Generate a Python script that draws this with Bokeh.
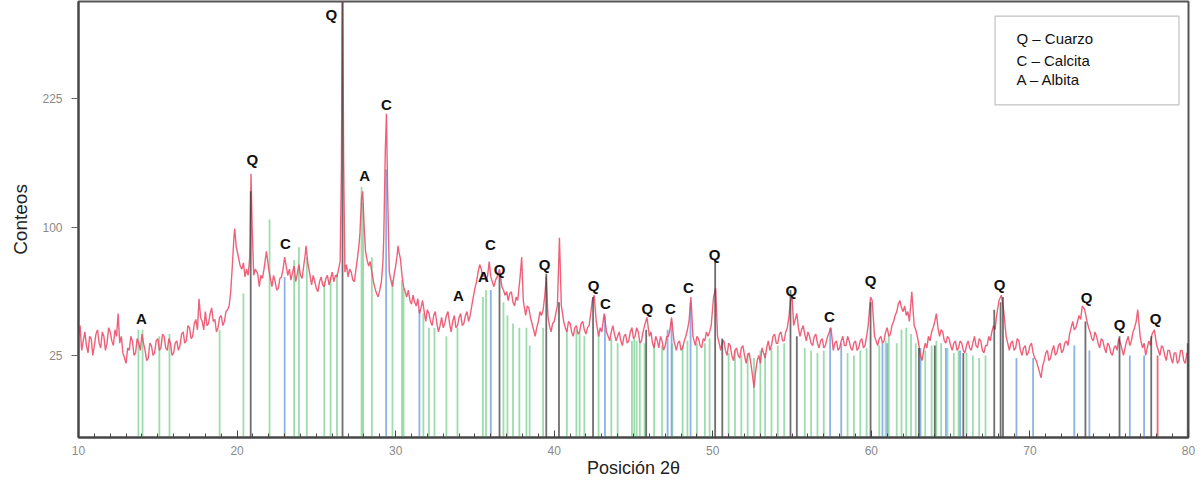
import numpy as np
from bokeh.plotting import figure
from bokeh.models import FixedTicker, Range1d, BoxAnnotation, Label, CustomJSTickFormatter
from bokeh.core.properties import value
from bokeh.embed import file_html
from bokeh.resources import INLINE

# ---- measured diffractogram (2theta in degrees, counts) ----
angle = [
    10.0, 10.1, 10.2, 10.3, 10.4, 10.5, 10.6, 10.7, 10.8, 10.9,
    11.0, 11.1, 11.2, 11.3, 11.4, 11.5, 11.6, 11.7, 11.8, 11.9,
    12.0, 12.1, 12.2, 12.3, 12.4, 12.5, 12.6, 12.7, 12.8, 12.9,
    13.0, 13.1, 13.2, 13.3, 13.4, 13.5, 13.6, 13.7, 13.8, 13.9,
    14.0, 14.1, 14.2, 14.3, 14.4, 14.5, 14.6, 14.7, 14.8, 14.9,
    15.0, 15.1, 15.2, 15.3, 15.4, 15.5, 15.6, 15.7, 15.8, 15.9,
    16.0, 16.1, 16.2, 16.3, 16.4, 16.5, 16.6, 16.7, 16.8, 16.9,
    17.0, 17.1, 17.2, 17.3, 17.4, 17.5, 17.6, 17.7, 17.8, 17.9,
    18.0, 18.1, 18.2, 18.3, 18.4, 18.5, 18.6, 18.7, 18.8, 18.9,
    19.0, 19.1, 19.2, 19.3, 19.4, 19.5, 19.6, 19.7, 19.8, 19.85, 19.95,
    20.05, 20.2, 20.3, 20.4, 20.5, 20.6, 20.7, 20.8, 20.88, 20.95,
    21.05, 21.15, 21.3, 21.4, 21.5, 21.6, 21.7, 21.85, 21.95,
    22.0, 22.1, 22.2, 22.3, 22.4, 22.5, 22.6, 22.7, 22.8, 22.9,
    23.0, 23.1, 23.2, 23.3, 23.4, 23.5, 23.6, 23.7, 23.8, 23.9,
    24.0, 24.1, 24.2, 24.3, 24.35, 24.45, 24.6, 24.7, 24.8, 24.9,
    25.0, 25.1, 25.2, 25.3, 25.4, 25.5, 25.6, 25.7, 25.8, 25.9,
    26.0, 26.1, 26.2, 26.3, 26.4, 26.5, 26.58, 26.65, 26.72, 26.8, 26.9,
    27.0, 27.1, 27.2, 27.3, 27.4, 27.5, 27.6, 27.7, 27.75, 27.85, 27.92,
    28.0, 28.1, 28.2, 28.3, 28.4, 28.5, 28.6, 28.7, 28.8, 28.9,
    29.0, 29.1, 29.2, 29.25, 29.35, 29.42, 29.5, 29.6, 29.7, 29.8, 29.9,
    30.0, 30.1, 30.15, 30.2, 30.3, 30.4, 30.5, 30.6, 30.7, 30.8, 30.9,
    31.0, 31.1, 31.2, 31.3, 31.4, 31.5, 31.6, 31.7, 31.8, 31.9,
    32.0, 32.1, 32.2, 32.3, 32.4, 32.5, 32.6, 32.7, 32.8, 32.9,
    33.0, 33.1, 33.2, 33.3, 33.4, 33.5, 33.6, 33.7, 33.8, 33.9,
    34.0, 34.1, 34.2, 34.3, 34.4, 34.5, 34.6, 34.7, 34.8, 34.9,
    35.0, 35.1, 35.2, 35.3, 35.4, 35.5, 35.6, 35.7, 35.8, 35.9,
    36.0, 36.1, 36.2, 36.3, 36.4, 36.5, 36.55, 36.7, 36.8, 36.9,
    37.0, 37.1, 37.2, 37.3, 37.4, 37.5, 37.6, 37.7, 37.85, 37.95,
    38.05, 38.2, 38.3, 38.4, 38.5, 38.6, 38.7, 38.8, 38.9,
    39.0, 39.1, 39.2, 39.3, 39.4, 39.5, 39.6, 39.7, 39.8, 39.9,
    40.0, 40.1, 40.2, 40.33, 40.45, 40.6, 40.7, 40.8, 40.9,
    41.0, 41.1, 41.2, 41.3, 41.4, 41.5, 41.6, 41.7, 41.8, 41.9,
    42.0, 42.1, 42.2, 42.3, 42.4, 42.52, 42.65, 42.8, 42.9,
    43.0, 43.15, 43.3, 43.4, 43.5, 43.6, 43.7, 43.8, 43.9,
    44.0, 44.1, 44.2, 44.3, 44.4, 44.5, 44.6, 44.7, 44.8, 44.9,
    45.0, 45.1, 45.2, 45.3, 45.4, 45.5, 45.6, 45.7, 45.85,
    46.0, 46.1, 46.2, 46.3, 46.4, 46.5, 46.6, 46.7, 46.8, 46.9,
    47.0, 47.1, 47.2, 47.3, 47.4, 47.55, 47.7, 47.8, 47.9,
    48.0, 48.1, 48.2, 48.3, 48.4, 48.5, 48.62, 48.75, 48.9,
    49.0, 49.1, 49.2, 49.3, 49.4, 49.5, 49.6, 49.7, 49.8, 49.9,
    50.05, 50.18, 50.3, 50.4, 50.5, 50.6, 50.7, 50.8, 50.9,
    51.0, 51.1, 51.2, 51.3, 51.4, 51.5, 51.6, 51.7, 51.8, 51.9,
    52.0, 52.1, 52.2, 52.3, 52.4, 52.5, 52.6, 52.7, 52.8, 52.9,
    53.0, 53.1, 53.2, 53.3, 53.4, 53.5, 53.6, 53.7, 53.8, 53.9,
    54.0, 54.1, 54.2, 54.3, 54.4, 54.5, 54.6, 54.7, 54.8, 54.9,
    55.0, 55.1, 55.2, 55.3, 55.4, 55.5, 55.6, 55.7, 55.8, 55.9,
    56.0, 56.1, 56.2, 56.3, 56.4, 56.5, 56.6, 56.7, 56.8, 56.9,
    57.0, 57.1, 57.2, 57.3, 57.45, 57.6, 57.7, 57.8, 57.9,
    58.0, 58.1, 58.2, 58.3, 58.4, 58.5, 58.6, 58.7, 58.8, 58.9,
    59.0, 59.1, 59.2, 59.3, 59.4, 59.5, 59.6, 59.7, 59.8, 59.95,
    60.05, 60.2, 60.3, 60.4, 60.5, 60.6, 60.7, 60.8, 60.9,
    61.0, 61.1, 61.2, 61.3, 61.4, 61.5, 61.6, 61.7, 61.8, 61.9,
    62.0, 62.1, 62.2, 62.3, 62.4, 62.55, 62.7, 62.8, 62.9,
    63.0, 63.1, 63.2, 63.3, 63.4, 63.5, 63.6, 63.7, 63.8, 63.9,
    64.0, 64.1, 64.2, 64.3, 64.4, 64.5, 64.6, 64.7, 64.8, 64.9,
    65.0, 65.1, 65.2, 65.3, 65.4, 65.5, 65.6, 65.7, 65.8, 65.9,
    66.0, 66.1, 66.2, 66.3, 66.4, 66.5, 66.6, 66.7, 66.8, 66.9,
    67.0, 67.1, 67.2, 67.3, 67.4, 67.5, 67.6, 67.7, 67.8, 67.9,
    68.05, 68.2, 68.35, 68.5, 68.6, 68.7, 68.8, 68.9,
    69.0, 69.1, 69.2, 69.3, 69.4, 69.5, 69.6, 69.7, 69.8, 69.9,
    70.0, 70.1, 70.2, 70.3, 70.4, 70.5, 70.6, 70.7, 70.8, 70.9,
    71.0, 71.1, 71.2, 71.3, 71.4, 71.5, 71.6, 71.7, 71.8, 71.9,
    72.0, 72.1, 72.2, 72.3, 72.4, 72.5, 72.6, 72.7, 72.8, 72.9,
    73.0, 73.1, 73.2, 73.3, 73.45, 73.6, 73.7, 73.8, 73.9,
    74.0, 74.1, 74.2, 74.3, 74.4, 74.5, 74.6, 74.7, 74.8, 74.9,
    75.0, 75.1, 75.2, 75.3, 75.4, 75.5, 75.6, 75.75, 75.9,
    76.0, 76.1, 76.2, 76.3, 76.4, 76.5, 76.6, 76.7, 76.8, 76.95,
    77.0, 77.1, 77.2, 77.3, 77.4, 77.5, 77.6, 77.7, 77.85, 77.95,
    78.0, 78.1, 78.2, 78.3, 78.4, 78.5, 78.6, 78.7, 78.8, 78.9,
    79.0, 79.1, 79.2, 79.3, 79.4, 79.5, 79.6, 79.7, 79.8, 79.9, 80.0,
]
counts = [
    33, 38, 27, 31, 35, 29, 26, 33, 32, 25,
    29, 34, 36, 30, 28, 35, 33, 27, 30, 37,
    35, 31, 29, 36, 33, 44, 30, 33, 26, 24,
    22, 28, 27, 33, 31, 25, 26, 32, 30, 27,
    34, 30, 27, 23, 24, 30, 29, 25, 26, 31,
    32, 27, 28, 34, 33, 28, 27, 32, 30, 25,
    26, 30, 31, 27, 29, 34, 35, 30, 31, 38,
    37, 32, 33, 39, 41, 36, 52, 42, 40, 36,
    45, 38, 39, 44, 47, 40, 41, 35, 37, 42,
    43, 38, 40, 45, 46, 48, 56, 72, 92, 99, 85,
    80, 72, 70, 74, 65, 70, 66, 78, 146, 100,
    66, 70, 67, 59, 66, 64, 70, 82, 74,
    70, 64, 59, 66, 62, 57, 58, 64, 65, 70,
    78, 72, 66, 70, 63, 68, 72, 62, 67, 73,
    66, 64, 72, 80, 86, 75, 66, 60, 66, 62,
    58, 56, 62, 65, 60, 59, 64, 66, 60, 64,
    68, 62, 66, 65, 70, 75, 150, 420, 160, 68, 73,
    65, 70, 68, 63, 62, 70, 78, 88, 96, 124, 130,
    104, 82, 76, 72, 75, 68, 62, 58, 55, 53,
    57, 62, 75, 92, 170, 208, 124, 68, 63, 59, 66,
    72, 80, 86, 82, 77, 66, 59, 56, 53, 57, 51,
    49, 54, 50, 48, 52, 44, 47, 51, 45, 40,
    46, 44, 40, 38, 43, 45, 39, 35, 38, 42,
    37, 39, 43, 45, 39, 35, 40, 43, 37, 38,
    42, 44, 38, 39, 43, 45, 40, 43, 48, 53,
    58, 62, 68, 73, 70, 65, 68, 62, 66, 75,
    65, 62, 59, 63, 65, 68, 70, 59, 57, 54,
    56, 51, 55, 56, 50, 48, 53, 51, 65, 78,
    51, 43, 48, 47, 42, 39, 36, 33, 37,
    40, 45, 43, 46, 53, 65, 43, 38, 35, 39,
    40, 44, 48, 92, 48, 40, 37, 35, 40,
    39, 35, 33, 37, 38, 34, 35, 39, 40, 36,
    34, 37, 38, 44, 51, 54, 40, 33, 37,
    35, 44, 35, 33, 31, 35, 38, 34, 31,
    33, 35, 31, 29, 33, 34, 30, 31, 35, 37,
    32, 33, 37, 35, 30, 31, 35, 38, 42,
    33, 35, 30, 28, 33, 31, 28, 33, 31, 27,
    29, 33, 33, 36, 42, 31, 27, 30, 31,
    27, 28, 31, 33, 36, 40, 53, 33, 29,
    33, 32, 29, 28, 32, 31, 35, 33, 35, 38,
    53, 58, 33, 30, 27, 31, 31, 27, 25,
    30, 29, 25, 23, 27, 28, 25, 24, 28, 29,
    25, 22, 25, 26, 22, 18, 14, 19, 23, 25,
    22, 28, 26, 24, 28, 31, 27, 29, 33, 34,
    30, 30, 34, 35, 31, 31, 35, 37, 42, 51,
    53, 38, 41, 44, 37, 33, 36, 38, 34, 31,
    35, 33, 30, 29, 33, 34, 30, 28, 31, 32,
    28, 29, 32, 34, 37, 27, 30, 31, 27,
    28, 31, 33, 29, 29, 33, 31, 28, 27, 30,
    31, 27, 28, 31, 32, 28, 29, 33, 38, 53,
    51, 33, 31, 29, 32, 33, 30, 31, 35,
    37, 33, 34, 38, 40, 43, 45, 49, 51, 47,
    45, 48, 43, 45, 40, 56, 38, 36, 33,
    29, 25, 23, 27, 30, 28, 33, 31, 35, 37,
    40, 44, 37, 33, 36, 35, 31, 30, 33, 32,
    29, 27, 30, 31, 27, 28, 31, 30, 27, 26,
    29, 31, 28, 27, 30, 33, 29, 28, 32, 31,
    27, 26, 29, 29, 33, 31, 35, 38, 36, 43,
    51, 54, 45, 33, 30, 27, 30, 31,
    27, 28, 32, 31, 27, 25, 28, 29, 25, 26,
    29, 30, 26, 24, 23, 21, 19, 17, 21, 23,
    26, 27, 23, 24, 27, 29, 25, 26, 29, 30,
    26, 27, 30, 31, 29, 34, 37, 40, 36, 37,
    40, 43, 41, 48, 46, 40, 37, 35, 32,
    31, 35, 33, 30, 28, 32, 31, 28, 26, 30,
    29, 26, 25, 28, 29, 27, 32, 29, 25,
    28, 31, 33, 29, 31, 35, 37, 40, 46, 33,
    31, 28, 30, 25, 28, 31, 29, 34, 36, 31,
    29, 27, 25, 29, 28, 25, 23, 27, 27, 24,
    22, 26, 26, 22, 23, 27, 27, 23, 22, 26, 25,
]
assert len(angle) == len(counts)

# ---- reference patterns (stick positions, stick heights in counts) ----
albite_pos = [13.78, 14.04, 15.1, 15.74, 18.9, 20.4, 22.05, 23.6, 23.9, 24.4, 25.5, 25.9, 26.3,
              27.85, 27.95, 28.5, 29.8, 30.4, 30.5, 31.75, 32.1, 32.45, 33.2, 33.9, 35.5, 35.7,
              36.8, 37.05, 37.4, 37.8, 38.25, 38.45, 39.3, 40.8, 41.4, 41.6, 41.9, 42.8, 43.6,
              44.0, 44.9, 45.05, 45.2, 45.4, 45.7, 46.3, 46.8, 47.45, 48.1, 48.4, 49.0, 49.5,
              49.8, 51.0, 51.4, 51.8, 52.2, 52.6, 53.0, 53.3, 53.7, 54.1, 54.5, 55.8, 56.2,
              56.6, 57.0, 58.5, 58.9, 59.3, 59.7, 60.5, 60.9, 61.1, 61.6, 61.9, 62.2, 62.5,
              62.8, 63.4, 63.8, 64.1, 64.4, 64.8, 65.2, 65.5, 66.0, 66.4, 66.8, 67.2]
albite_h = [36, 36, 33, 34, 36, 55, 106, 76, 85, 78, 62, 65, 67,
            134, 120, 78, 63, 63, 58, 44, 37, 37, 33, 37, 53, 57,
            50, 43, 39, 37, 37, 29, 37, 36, 36, 35, 33, 34, 32,
            30, 31, 32, 31, 30, 30, 30, 29, 30, 29, 31, 30, 30,
            32, 26, 27, 25, 26, 24, 27, 26, 28, 29, 30, 28, 27,
            26, 27, 26, 25, 27, 28, 29, 31, 33, 30, 36, 37, 34,
            30, 27, 29, 31, 30, 28, 26, 27, 26, 25, 24, 25]
calcite_pos = [23.0, 29.4, 31.5, 36.0, 43.2, 47.15, 47.4, 48.6, 57.4, 58.1, 60.7, 61.0,
               63.1, 64.7, 65.6, 69.15, 70.2, 72.8, 73.75, 76.3, 77.2]
calcite_h = [65, 150, 46, 57, 43, 36, 40, 50, 37, 30, 30, 30,
             28, 28, 27, 24, 24, 29, 27, 25, 25]
quartz_pos = [20.86, 26.65, 36.55, 39.5, 40.3, 42.45, 45.8, 50.15, 50.6, 54.9, 55.3, 59.95,
              63.0, 64.0, 65.8, 67.75, 68.15, 68.3, 73.5, 75.65, 77.65, 79.95]
quartz_h = [130, 400, 67, 67, 50, 53, 36, 76, 32, 57, 33, 50,
            28, 29, 26, 46, 50, 53, 40, 33, 33, 30]
other_pos = [78.05]
other_h = [25]

# ---- peak labels ----
peak_text = ["A", "Q", "C", "Q", "A", "C", "A", "A", "C", "Q", "Q", "Q", "C", "Q", "C", "C",
             "Q", "Q", "C", "Q", "Q", "Q", "Q", "Q"]
peak_pos = [13.97, 20.97, 23.05, 25.95, 28.04, 29.42, 33.96, 35.54, 35.98, 36.55, 39.39, 42.48,
            43.23, 45.88, 47.33, 48.47, 50.11, 54.96, 57.36, 59.95, 68.08, 73.57, 75.65, 77.92]
peak_h = [41.7, 160, 88, 334, 144, 219, 54, 65, 86.7, 69.8, 73, 59.7,
          49.6, 46.9, 46.9, 58.6, 79.6, 56.9, 42.3, 62.8, 60.4, 52.9, 38.3, 41.7]

legend_lines = ["Q \u2013 Cuarzo", "C \u2013 Calcita", "A \u2013 Albita"]
x_ticks = [10, 20, 30, 40, 50, 60, 70, 80]
y_ticks = [25, 100, 225]

FONT = "Liberation Sans"
sq = lambda v: np.sqrt(np.asarray(v, dtype=float))  # square-root intensity scale

p = figure(width=1195, height=480, output_backend="svg", toolbar_location=None,
           x_range=Range1d(10, 80), y_range=Range1d(1.8, 18.8),
           min_border_left=78, min_border_right=7, min_border_top=1, min_border_bottom=38)
p.background_fill_color = "white"
p.border_fill_color = "white"
p.xgrid.visible = False
p.ygrid.visible = False
p.outline_line_color = "#555555"
p.outline_line_width = 2

# sticks
p.segment(x0=albite_pos, y0=0, x1=albite_pos, y1=sq(albite_h), line_color="#5cc477",
          line_alpha=0.6, line_width=1.8)
p.segment(x0=calcite_pos, y0=0, x1=calcite_pos, y1=sq(calcite_h), line_color="#6f9fe0",
          line_alpha=0.8, line_width=1.8)
p.segment(x0=other_pos, y0=0, x1=other_pos, y1=sq(other_h), line_color="#e8405e",
          line_alpha=0.8, line_width=1.8)
# measured pattern
p.line(angle, sq(counts), line_color="#ec4563", line_alpha=0.85, line_width=1.4)
p.segment(x0=quartz_pos, y0=0, x1=quartz_pos, y1=sq(quartz_h), line_color="#3d3d3d",
          line_alpha=0.75, line_width=1.8)

# peak labels
p.text(x=peak_pos, y=sq(peak_h), text=peak_text, text_align="center", text_baseline="middle",
       text_font=value(FONT), text_font_style="bold", text_font_size="15px", text_color="#111111")

# legend box
p.add_layout(BoxAnnotation(left=67.8, right=79.4, bottom=14.77, top=18.23,
                           fill_color="white", fill_alpha=1.0,
                           line_color="#333333", line_width=1.2))
for txt, yy in zip(legend_lines, [17.35, 16.5, 15.77]):
    p.add_layout(Label(x=69.15, y=yy, text=txt, text_baseline="middle", text_align="left",
                       text_font=FONT, text_font_size="15px", text_color="#111111"))

# x axis
xa = p.xaxis[0]
xa.ticker = FixedTicker(ticks=x_ticks, minor_ticks=list(range(10, 81)))
xa.major_tick_in = 7
xa.major_tick_out = 0
xa.minor_tick_in = 4
xa.minor_tick_out = 0
xa.axis_line_color = "#444444"
xa.axis_line_width = 2
xa.major_tick_line_color = "#444444"
xa.minor_tick_line_color = "#444444"
xa.major_label_text_font = FONT
xa.major_label_text_font_size = "12px"
xa.major_label_text_color = "#8a8a8a"
xa.major_label_standoff = 8
xa.axis_label = "Posición 2θ"
xa.axis_label_text_font = FONT
xa.axis_label_text_font_size = "18px"
xa.axis_label_text_font_style = "normal"
xa.axis_label_text_color = "#222222"
xa.axis_label_standoff = 0

# y axis (square-root scale)
ya = p.yaxis[0]
ya.ticker = FixedTicker(ticks=list(sq(y_ticks)))
ya.formatter = CustomJSTickFormatter(code="return String(Math.round(tick*tick));")
ya.major_tick_in = 0
ya.major_tick_out = 7
ya.minor_tick_line_color = None
ya.axis_line_color = "#444444"
ya.axis_line_width = 2
ya.major_tick_line_color = "#666666"
ya.major_label_text_font = FONT
ya.major_label_text_font_size = "12px"
ya.major_label_text_color = "#8a8a8a"
ya.major_label_standoff = 9
ya.axis_label = "Conteos"
ya.axis_label_text_font = FONT
ya.axis_label_text_font_size = "19px"
ya.axis_label_text_font_style = "normal"
ya.axis_label_text_color = "#222222"
ya.axis_label_standoff = 8

open("out.html", "w").write(file_html(p, INLINE))
